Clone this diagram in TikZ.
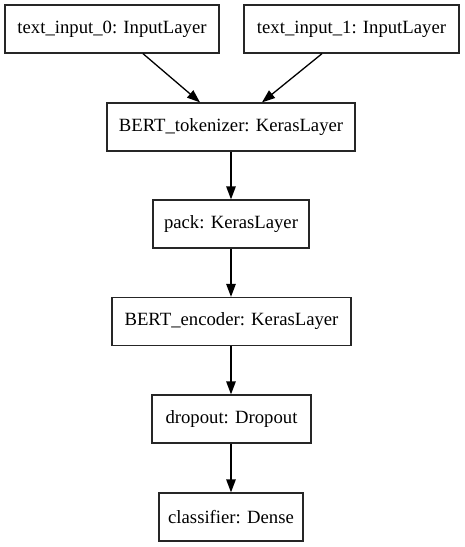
\documentclass[tikz,border=0pt]{standalone}
\usepackage{fontspec}
\setmainfont{Liberation Serif}
\usetikzlibrary{arrows.meta}
\begin{document}
\begin{tikzpicture}[x=1pt,y=-1pt,
  layer/.style={draw=black!85,line width=1.3pt,minimum height=48pt,inner sep=0pt,font=\fontsize{18.7}{22}\selectfont,fill=white},
  edge/.style={line width=1.3pt,-{Triangle[length=13pt,width=9.5pt]}}]
\useasboundingbox (0,0) rectangle (464,547);
\node[layer,minimum width=214pt] (t0) at (112,29) {text\_input\_0: InputLayer};
\node[layer,minimum width=215pt] (t1) at (351.5,29) {text\_input\_1: InputLayer};
\node[layer,minimum width=248pt] (tok) at (231,127) {BERT\_tokenizer: KerasLayer};
\node[layer,minimum width=156pt] (pack) at (231,224) {pack: KerasLayer};
\node[layer,minimum width=239pt] (enc) at (231.5,321.5) {BERT\_encoder: KerasLayer};
\node[layer,minimum width=159pt] (drop) at (231.5,419) {dropout: Dropout};
\node[layer,minimum width=144pt] (cls) at (231,517) {classifier: Dense};
\draw[edge] ([xshift=31pt]t0.south) -- ([xshift=-31pt]tok.north);
\draw[edge] ([xshift=-29.5pt]t1.south) -- ([xshift=31pt]tok.north);
\draw[edge] (tok.south) -- (tok.south |- pack.north);
\draw[edge] (pack.south) -- (pack.south |- enc.north);
\draw[edge] (pack.south |- enc.south) -- (pack.south |- drop.north);
\draw[edge] (pack.south |- drop.south) -- (pack.south |- cls.north);
\end{tikzpicture}
\end{document}
